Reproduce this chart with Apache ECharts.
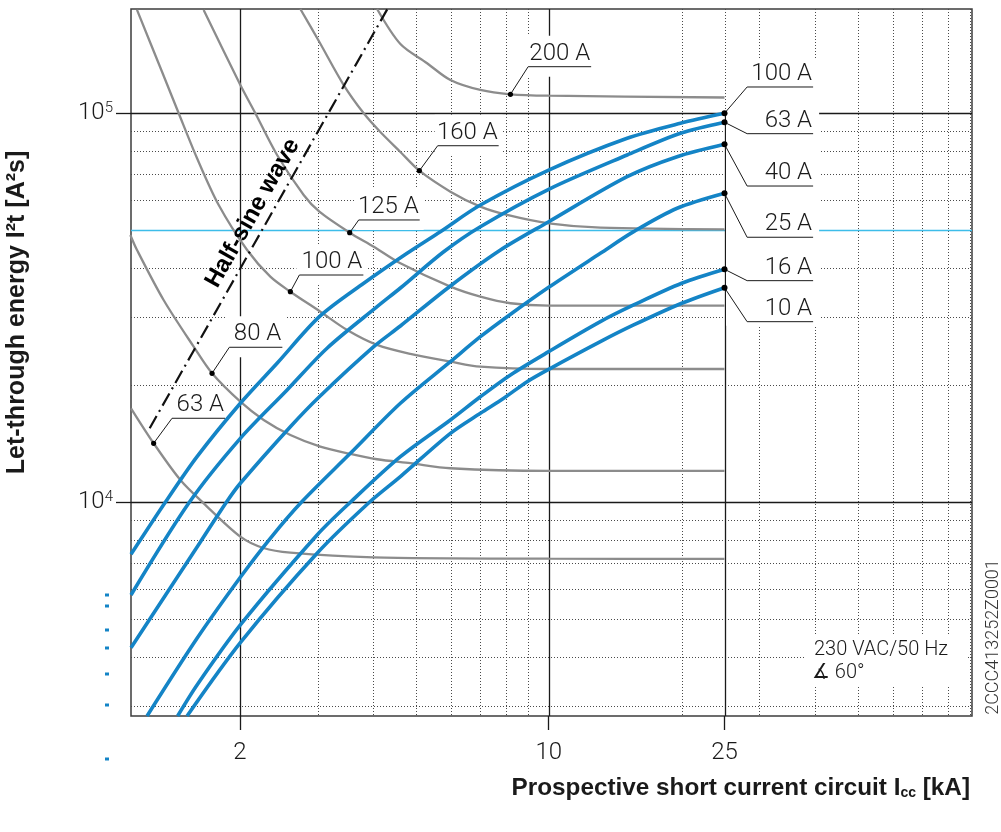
<!DOCTYPE html>
<html>
<head>
<meta charset="utf-8">
<title>Let-through energy I²t</title>
<script src="https://cdn.jsdelivr.net/npm/echarts@6.0.0/dist/echarts.min.js"></script>
<style>
html,body{margin:0;padding:0;background:#fff;}
#chart{width:1001px;height:832px;}
</style>
</head>
<body>
<div id="chart"></div>
<script>
// ---------------- values ----------------
const xTickLabels = [2, 10, 25];
const yTickValues = [10000, 100000];
const xMinorGrid = [3, 4, 5, 6, 7, 8, 9, 20, 25, 30, 40, 50, 60, 70, 80, 90];
const yMinorGrid = [3000, 4000, 5000, 6000, 7000, 8000, 9000, 20000, 30000, 40000, 60000, 70000, 80000, 90000];
const xRange = [1.134, 90.8];
const yRange = [2822, 185400];
const refLevel = 50000;

// MCB let-through curves (blue) [kA, A²s]
const mcbNames = ['100 A', '63 A', '40 A', '25 A', '16 A', '10 A'];
const mcb100 = [[1.134,7350],[1.356,10000],[1.600,13100],[2.005,17970],[2.428,22770],[3.027,30000],[3.814,36560],[4.780,43660],[5.686,49620],[7.004,58100],[10,71470],[15.05,86260],[19.87,94260],[25,100000]];
const mcb63 = [[1.134,5777],[1.537,10000],[2.005,14600],[2.558,19440],[3.150,24890],[4.089,31830],[4.617,35550],[5.776,44000],[7.004,51110],[10,63780],[15.05,78130],[19.87,88820],[25,94820]];
const mcb40 = [[1.134,4228],[1.628,7905],[1.864,10000],[2.005,11190],[2.602,15640],[3.027,18680],[4.018,25120],[4.617,28390],[5.991,35980],[7.777,44520],[10,52640],[15.05,68710],[19.53,77340],[25,83220]];
const mcb25 = [[1.233,2822],[1.600,4470],[2.005,6416],[2.344,8080],[2.755,10000],[3.557,13360],[4.617,17970],[5.991,22990],[7.004,26650],[8.052,30000],[10,35700],[13.09,43660],[15.57,49620],[19.53,56990],[25,62290]];
const mcb16 = [[1.446,2822],[1.600,3391],[2.005,4838],[2.991,8240],[3.557,10000],[4.617,13100],[5.991,16280],[7.004,18680],[8.193,21250],[10,24390],[13.09,29130],[15.57,32150],[20,36560],[25,39720]];
const mcb10 = [[1.519,2822],[2.005,4356],[2.991,7395],[3.928,10000],[4.617,11640],[5.991,15040],[7.004,16940],[7.911,18510],[8.937,20420],[10,21970],[13.09,25880],[15.57,28560],[20,32480],[25,35620]];

// Fuse curves (grey) [kA, A²s]
const fuseNames = ['63 A', '80 A', '100 A', '125 A', '160 A', '200 A'];
const fuse63 = [[1.134,17440],[1.276,14180],[1.467,11410],[1.656,9940],[2.005,8160],[2.261,7630],[2.602,7420],[4.01,7220],[10,7160],[25,7150]];
const fuse80 = [[1.130,48670],[1.170,44520],[1.344,33110],[1.572,25120],[1.730,21460],[2.005,18140],[2.264,16280],[2.602,14890],[3.042,13900],[3.557,13310],[4.089,12900],[4.863,12600],[5.991,12230],[10,12040],[25,12040]];
const fuse100 = [[1.170,184400],[1.333,127900],[1.454,100000],[1.600,76630],[1.791,58100],[2.077,44520],[2.344,38020],[2.602,34780],[3.042,30900],[3.498,27730],[4.089,25380],[4.863,24060],[5.991,22990],[7.004,22310],[10,22010],[25,22010]];
const fuse125 = [[1.656,184400],[2.005,118200],[2.168,100000],[2.428,78130],[2.789,61660],[3.027,55850],[3.545,49330],[4.018,45400],[4.617,41150],[5.991,35830],[7.004,33770],[8.193,32480],[10,32020],[25,32020]];
const fuse160 = [[2.741,185400],[3.027,152500],[3.436,118200],[3.814,100000],[4.159,89500],[4.617,79540],[5.097,71180],[5.991,62890],[7.004,57530],[8.052,54780],[10,52130],[13.09,50810],[25,50300]];
const fuse200 = [[4.089,185400],[4.617,150700],[5.306,134500],[5.991,121800],[7.004,114800],[8.193,111900],[10,111000],[25,109800]];

// Half-sine wave reference line
const halfSineName = 'Half-sine wave';
const halfSine = [[1.25,15500],[4.31,185000]];

const noteLines = ['230 VAC/50 Hz', '\u2221 60°'];
const docCode = '2CCC413252Z0001';
const xAxisTitle = ['Prospective short current circuit I', 'cc', ' [kA]'];
const yAxisTitle = 'Let-through energy I²t [A²s]';

// ---------------- styles / layout ----------------
const FONT_LIGHT = "Roboto, 'Liberation Sans', Arial, sans-serif";
const FONT_BOLD = "'Liberation Sans', Arial, sans-serif";
const TXT = '#1a1a1a';
const BLUE = '#1484c6';
const GREY = '#8c8c8c';
const CYAN = '#3dbde9';
const LABEL_SIZE = 24;

const mcbData = [mcb100, mcb63, mcb40, mcb25, mcb16, mcb10];
const fuseData = [fuse63, fuse80, fuse100, fuse125, fuse160, fuse200];

const mcbLabelLayout = [
  {dx: 22.6, dy: -26.3, len: 66},
  {dx: 22.6, dy: 11.4, len: 66},
  {dx: 22.6, dy: 41.7, len: 66},
  {dx: 22.6, dy: 44, len: 66},
  {dx: 22.6, dy: 11.4, len: 66},
  {dx: 22.6, dy: 34, len: 66}
];
const fuseLabelLayout = [
  {at: 1, dx: 18.4, dy: -25, len: 53},
  {at: 4, dx: 17.3, dy: -26, len: 53},
  {at: 7, dx: 9, dy: -16.7, len: 64},
  {at: 6, dx: 9, dy: -12.7, len: 61},
  {at: 6, dx: 18.3, dy: -25, len: 61},
  {at: 5, dx: 17.7, dy: -27.6, len: 63}
];
const decoSquaresY = [595, 606, 630, 648, 674, 705, 759];

const chart = echarts.init(document.getElementById('chart'), null, {renderer: 'canvas', width: 1001, height: 832});

function gridLines(id, values, dir, style, z) {
  return {
    type: 'custom', id: id, z: z, silent: true, clip: false,
    data: values.map(v => dir === 'v' ? [v, yRange[0]] : [xRange[0], v]),
    renderItem: function (params, api) {
      const cs = params.coordSys;
      if (dir === 'v') {
        const x = Math.round(api.coord([api.value(0), yRange[0]])[0]) + 0.5;
        return {type: 'line', shape: {x1: x, y1: cs.y, x2: x, y2: cs.y + cs.height}, style: style};
      }
      const y = Math.round(api.coord([xRange[0], api.value(1)])[1]) + 0.5;
      return {type: 'line', shape: {x1: cs.x, y1: y, x2: cs.x + cs.width, y2: y}, style: style};
    }
  };
}

const mcbTop = Math.max.apply(null, mcbData.map(d => d[d.length - 1][1]));
const majorXItems = xTickLabels.map(v => [v, v === 25 ? mcbTop : yRange[1]]);

const series = [
  gridLines('minorX', xMinorGrid, 'v', {stroke: '#4a4a4a', lineWidth: 1, lineDash: [1, 2]}, 1),
  gridLines('minorY', yMinorGrid, 'h', {stroke: '#4a4a4a', lineWidth: 1, lineDash: [1, 2]}, 1),
  gridLines('ref', [refLevel], 'h', {stroke: CYAN, lineWidth: 1.4}, 1),
  gridLines('majorY', yTickValues, 'h', {stroke: '#1a1a1a', lineWidth: 1.3}, 1),
  {
    type: 'custom', id: 'majorX', z: 1, silent: true, clip: false,
    data: majorXItems,
    renderItem: function (params, api) {
      const cs = params.coordSys;
      const p = api.coord([api.value(0), api.value(1)]);
      const x = Math.round(p[0]) + 0.5;
      return {type: 'line', shape: {x1: x, y1: Math.max(cs.y, p[1]), x2: x, y2: cs.y + cs.height}, style: {stroke: '#1a1a1a', lineWidth: 1.3}};
    }
  }
];
fuseData.forEach((d, i) => series.push({
  type: 'line', id: 'fuse' + i, name: 'Fuse ' + fuseNames[i], data: d, z: 3, silent: true,
  showSymbol: false, symbol: 'none', smooth: 0.3,
  lineStyle: {color: GREY, width: 2.3}
}));
mcbData.forEach((d, i) => series.push({
  type: 'line', id: 'mcb' + i, name: 'MCB ' + mcbNames[i], data: d, z: 4, silent: true,
  showSymbol: false, symbol: 'none', smooth: 0.3,
  lineStyle: {color: BLUE, width: 3.6}
}));
series.push({
  type: 'line', id: 'halfsine', name: halfSineName, data: halfSine, z: 4, silent: true,
  showSymbol: false, symbol: 'none',
  lineStyle: {color: '#111', width: 2.2, type: [14, 5, 2, 5]}
});

const option = {
  animation: false,
  backgroundColor: '#ffffff',
  textStyle: {fontFamily: FONT_LIGHT},
  grid: {left: 131, right: 29, top: 9, bottom: 116, containLabel: false, outerBoundsMode: 'none',
         show: true, borderColor: '#3c3c3c', borderWidth: 1.5, backgroundColor: 'transparent'},
  xAxis: {
    type: 'log', logBase: 10, min: xRange[0], max: xRange[1],
    name: '{t|' + xAxisTitle[0] + '}{s|' + xAxisTitle[1] + '}{t|' + xAxisTitle[2] + '}',
    nameLocation: 'end', nameGap: -2,
    nameTextStyle: {
      align: 'right', verticalAlign: 'top', padding: [60, 0, 0, 0],
      rich: {
        t: {fontFamily: FONT_BOLD, fontWeight: 'bold', fontSize: 24.3, color: TXT},
        s: {fontFamily: FONT_BOLD, fontWeight: 'bold', fontSize: 14, color: TXT, verticalAlign: 'bottom', lineHeight: 19}
      }
    },
    axisLine: {show: false},
    axisTick: {show: true, customValues: xTickLabels, length: 14, inside: false, lineStyle: {color: '#1a1a1a', width: 1.3}},
    axisLabel: {show: true, customValues: xTickLabels, margin: 25, fontSize: 24, fontWeight: 300, fontFamily: FONT_LIGHT, color: TXT},
    splitLine: {show: false}, minorTick: {show: false}, minorSplitLine: {show: false}
  },
  yAxis: {
    type: 'log', logBase: 10, min: yRange[0], max: yRange[1],
    name: yAxisTitle, nameLocation: 'middle', nameGap: 101, nameRotate: 90,
    nameTextStyle: {fontFamily: FONT_BOLD, fontWeight: 'bold', fontSize: 25, color: TXT, padding: [0, 0, 0, 100]},
    axisLine: {show: false},
    axisTick: {show: true, customValues: yTickValues, length: 15, inside: false, lineStyle: {color: '#1a1a1a', width: 1.3}},
    axisLabel: {
      show: true, customValues: yTickValues, margin: 18,
      formatter: v => '{b|10}{s|' + Math.round(Math.log10(v)) + '}',
      rich: {
        b: {fontSize: 24, fontWeight: 300, fontFamily: FONT_LIGHT, color: TXT, lineHeight: 26},
        s: {fontSize: 15, fontWeight: 300, fontFamily: FONT_LIGHT, color: TXT, lineHeight: 15, verticalAlign: 'top'}
      }
    },
    splitLine: {show: false}, minorTick: {show: false}, minorSplitLine: {show: false}
  },
  series: series
};
chart.setOption(option);

// ---------------- annotations (placed from data via the chart's scales) ----------------
function buildAnnotations() {
  const px = p => chart.convertToPixel({gridIndex: 0}, p);
  const els = [];
  const labelFont = {fontSize: LABEL_SIZE, fontFamily: FONT_LIGHT, fontWeight: 300, fill: TXT};
  function label(anchor, lay, text, r) {
    const ux = anchor[0] + lay.dx, uy = anchor[1] + lay.dy;
    els.push({type: 'polyline', z: 6, silent: true,
      shape: {points: [[anchor[0], anchor[1]], [ux, uy], [ux + lay.len, uy]]},
      style: {stroke: '#1a1a1a', lineWidth: 1, fill: 'none'}});
    els.push({type: 'text', z: 7, silent: true,
      style: Object.assign({text: text, x: ux + lay.len - 1, y: uy - 13, align: 'right', verticalAlign: 'middle'}, labelFont)});
    els.push({type: 'circle', z: 8, silent: true, shape: {cx: anchor[0], cy: anchor[1], r: r}, style: {fill: '#000'}});
    return [ux, uy];
  }
  // MCB labels at the curve ends (right block with white background)
  const ends = mcbData.map(d => px(d[d.length - 1]));
  const unders = ends.map((a, i) => label(a, mcbLabelLayout[i], mcbNames[i], 3));
  const uys = unders.map(u => u[1]);
  const rx0 = ends[0][0] + 1.5, rx1 = unders[0][0] + mcbLabelLayout[0].len + 6;
  const ry0 = Math.min.apply(null, uys) - 29, ry1 = Math.max.apply(null, uys) + 4;
  els.push({type: 'rect', z: 2, silent: true, shape: {x: rx0, y: ry0, width: rx1 - rx0, height: ry1 - ry0}, style: {fill: '#fff'}});
  // fuse labels
  fuseData.forEach((d, i) => {
    const lay = fuseLabelLayout[i];
    const a = px(d[lay.at]);
    const u = label(a, lay, fuseNames[i], 2.6);
    els.push({type: 'rect', z: 2, silent: true, shape: {x: u[0] - 3, y: u[1] - 31, width: lay.len + 7, height: 41}, style: {fill: '#fff'}});
  });
  // half-sine text along the dash-dot line
  const p0 = px(halfSine[0]), p1 = px(halfSine[1]);
  const vx = p1[0] - p0[0], vy = p1[1] - p0[1], L = Math.hypot(vx, vy);
  const nx = vy / L, ny = -vx / L;
  els.push({type: 'text', z: 7, silent: true,
    x: p0[0] + vx * 0.494 + nx * 16.5, y: p0[1] + vy * 0.494 + ny * 16.5, rotation: Math.atan2(-vy, vx),
    style: {text: halfSineName, x: 0, y: 0, align: 'center', verticalAlign: 'middle', fontSize: 24, fontWeight: 'bold', fontFamily: FONT_BOLD, fill: '#000'}});
  // note box
  els.push({type: 'rect', z: 2, silent: true, shape: {x: 806, y: 634, width: 160, height: 51}, style: {fill: '#fff'}});
  els.push({type: 'text', z: 7, silent: true, style: {text: noteLines[0], x: 814, y: 650, align: 'left', verticalAlign: 'middle', fontSize: 20, fontFamily: FONT_LIGHT, fontWeight: 300, fill: TXT}});
  els.push({type: 'text', z: 7, silent: true, style: {text: noteLines[1], x: 812, y: 673, align: 'left', verticalAlign: 'middle', fontSize: 20, fontFamily: FONT_LIGHT, fontWeight: 300, fill: TXT}});
  // document code (vertical)
  els.push({type: 'text', z: 7, silent: true, x: 993, y: 637, rotation: Math.PI / 2,
    style: {text: docCode, x: 0, y: 0, align: 'center', verticalAlign: 'middle', fontSize: 18, fontFamily: FONT_LIGHT, fontWeight: 300, fill: '#333'}});
  // small blue marks on the left margin
  decoSquaresY.forEach(y => els.push({type: 'rect', z: 7, silent: true, shape: {x: 105, y: y - 1.5, width: 4, height: 3}, style: {fill: BLUE}}));
  return els;
}
chart.setOption({graphic: {elements: buildAnnotations()}});
</script>
</body>
</html>
